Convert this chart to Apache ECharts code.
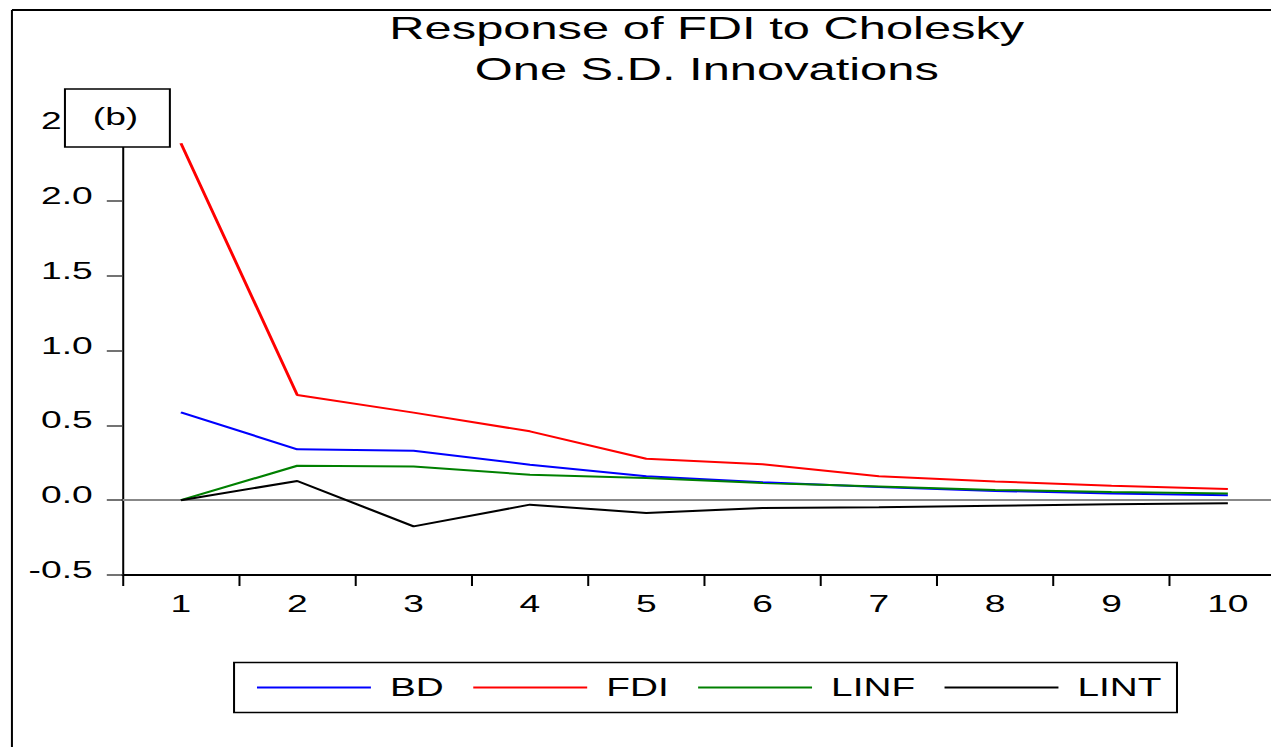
<!DOCTYPE html>
<html>
<head>
<meta charset="utf-8">
<script src="https://cdn.jsdelivr.net/npm/echarts@6/dist/echarts.min.js"></script>
<style>
  html, body { margin: 0; padding: 0; overflow: hidden; background: #fff; }
  /* the source image is stretched wide, so draw narrow and stretch the same way */
  #chart { width: 820px; height: 747px; transform: scaleX(1.55); transform-origin: 0 0; }
</style>
</head>
<body>
<div id="chart"></div>
<script>
const periods = ['1', '2', '3', '4', '5', '6', '7', '8', '9', '10'];
const bd   = [0.587, 0.34, 0.33, 0.237, 0.16, 0.12, 0.088, 0.062, 0.044, 0.033];
const fdi  = [2.385, 0.703, 0.585, 0.46, 0.277, 0.24, 0.16, 0.125, 0.097, 0.075];
const linf = [0, 0.23, 0.225, 0.17, 0.148, 0.115, 0.092, 0.068, 0.055, 0.045];
const lint = [0, 0.128, -0.175, -0.03, -0.085, -0.052, -0.048, -0.037, -0.027, -0.02];

const font = 'Liberation Sans, Arial, sans-serif';
const chart = echarts.init(document.getElementById('chart'), null, { renderer: 'svg' });

function line(name, data, color, extra) {
  return Object.assign({
    name: name,
    type: 'line',
    data: data,
    symbol: 'none',
    showSymbol: false,
    smooth: false,
    lineStyle: { color: color, width: 2 },
    itemStyle: { color: color }
  }, extra || {});
}

const option = {
  backgroundColor: '#fff',
  animation: false,
  title: {
    text: 'Response of FDI to Cholesky\nOne S.D. Innovations',
    left: 456,
    top: 8,
    padding: 0,
    textAlign: 'center',
    textStyle: {
      fontFamily: font,
      fontSize: 31.5,
      fontWeight: 'normal',
      color: '#000',
      lineHeight: 41
    }
  },
  grid: {
    left: 79.2,
    top: 126,
    width: 750.5,
    height: 449,
    outerBoundsMode: 'none',
    containLabel: false
  },
  legend: {
    left: 151,
    top: 662.5,
    data: ['BD', 'FDI', 'LINF', 'LINT'],
    icon: 'rect',
    itemWidth: 73.5,
    itemHeight: 2,
    itemGap: 19,
    borderColor: '#000',
    borderWidth: 1.3,
    padding: [12.5, 10, 12.5, 14.8],
    textStyle: {
      fontFamily: font,
      fontSize: 25,
      lineHeight: 25,
      color: '#000',
      padding: [0, 0, 0, 7.3]
    }
  },
  xAxis: [{
    type: 'category',
    data: periods,
    boundaryGap: true,
    axisLine: { onZero: false, lineStyle: { color: '#000', width: 2 } },
    axisTick: { show: true, length: 11, lineStyle: { color: '#000', width: 1.3 } },
    axisLabel: { fontFamily: font, fontSize: 24, color: '#000', margin: 17 },
    splitLine: { show: false }
  }, {
    type: 'category',
    data: periods,
    position: 'top',
    axisLine: { lineStyle: { color: '#000', width: 2 } },
    axisTick: { show: false },
    axisLabel: { show: false }
  }],
  yAxis: {
    type: 'value',
    min: -0.5,
    max: 2.5,
    interval: 0.5,
    axisLine: { show: true, lineStyle: { color: '#000', width: 1.3 } },
    axisTick: { show: true, length: 10.3, lineStyle: { color: '#444', width: 1.5 } },
    axisLabel: {
      fontFamily: font,
      fontSize: 24,
      color: '#000',
      margin: 19.4,
      verticalAlign: 'bottom',
      lineHeight: 10,
      formatter: v => v.toFixed(1)
    },
    splitLine: { show: false }
  },
  series: [
    line('BD', bd, '#0000ff'),
    line('FDI', fdi, '#ff0000'),
    line('LINF', linf, '#008000'),
    line('LINT', lint, '#000000', {
      markLine: {
        silent: true,
        symbol: 'none',
        label: { show: false },
        lineStyle: { color: '#888', width: 2, type: 'solid' },
        data: [{ yAxis: 0 }],
        z: 1
      }
    })
  ],
  graphic: [
    // outer frame (top and left edges)
    { type: 'line', z: 50, shape: { x1: 7.7, y1: 10, x2: 820, y2: 10 }, style: { stroke: '#000', lineWidth: 2 } },
    { type: 'line', z: 50, shape: { x1: 7.7, y1: 10, x2: 7.7, y2: 747 }, style: { stroke: '#000', lineWidth: 1.3 } },
    // panel tag, drawn over the axis corner
    {
      type: 'rect', z: 100, zlevel: 1,
      shape: { x: 41.9, y: 89, width: 67.7, height: 58 },
      style: { fill: '#fff', stroke: '#000', lineWidth: 1.3 }
    },
    {
      type: 'text', z: 101, zlevel: 1,
      x: 74.5, y: 117,
      style: { text: '(b)', font: '24px ' + font, fill: '#000', align: 'center', verticalAlign: 'middle' }
    }
  ]
};

chart.setOption(option);
</script>
</body>
</html>
